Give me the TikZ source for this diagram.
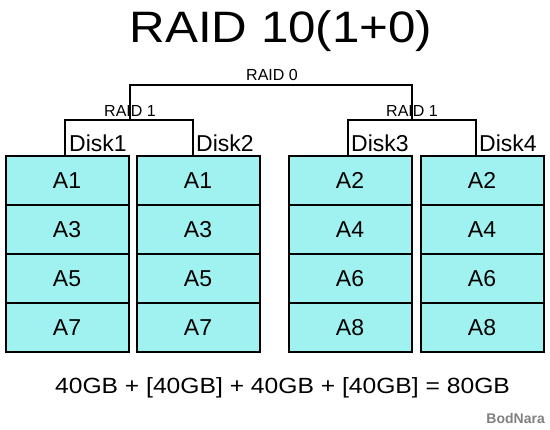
\documentclass[tikz,border=0pt]{standalone}
\usepackage{fontspec}
\setmainfont{Liberation Sans}
\usetikzlibrary{positioning}
\definecolor{cellcyan}{RGB}{160,242,240}

\begin{document}
\begin{tikzpicture}[x=1pt,y=-1pt,
        cell/.style={draw,line width=2pt,fill=cellcyan,minimum width=123pt,minimum height=49pt,
          inner sep=0pt,font=\fontsize{23}{23}\selectfont},
        disklabel/.style={anchor=base west,inner sep=0pt,font=\fontsize{23}{23}\selectfont},
        raidlabel/.style={anchor=base,inner sep=0pt,font=\fontsize{16}{16}\selectfont},
        bracket/.style={line width=1.6pt}
      ]
        \useasboundingbox (0,0) rectangle (550,430);
        \node[anchor=base,inner sep=0pt,xscale=1.12,font=\fontsize{44}{44}\selectfont] (title) at (281,43) {RAID 10(1+0)};
        % disk columns
        \foreach \cx/\off [count=\d] in {67/1,198/1,350/2,482/2} {
          \foreach \r in {0,...,3} {
            \pgfmathtruncatemacro{\blk}{2*\r+\off}
            \node[cell] (c\d\r) at (\cx,180.5+49*\r) {A\blk};
          }
        }
        % mirror pairs
        \coordinate (m1) at (130,120);
        \coordinate (m2) at (412,120);
        \draw[bracket] ([xshift=-2pt]c10.north) |- (m1) -| ([xshift=-5pt]c20.north);
        \draw[bracket] ([xshift=-2pt]c30.north) |- (m2) -| ([xshift=-6pt]c40.north);
        \node[raidlabel] at (130,117) {RAID 1};
        \node[raidlabel] at (412,117) {RAID 1};
        % stripe
        \coordinate (s0) at (272,85);
        \draw[bracket] (m1) |- (s0) -| (m2);
        \node[raidlabel] at (272,81) {RAID 0};
        % disk names
        \node[disklabel] at (69,152) {Disk1};
        \node[disklabel] at (196,152) {Disk2};
        \node[disklabel] at (351,152) {Disk3};
        \node[disklabel] at (479,152) {Disk4};
        \node[anchor=base,inner sep=0pt,xscale=1.12,font=\fontsize{22}{22}\selectfont] (total) at (282.5,394)
          {40GB + [40GB] + 40GB + [40GB] = 80GB};
        \node[anchor=base east,inner sep=0pt,text=gray,font=\bfseries\fontsize{14}{14}\selectfont] (mark) at (545,424) {BodNara};
      \end{tikzpicture}
\end{document}
